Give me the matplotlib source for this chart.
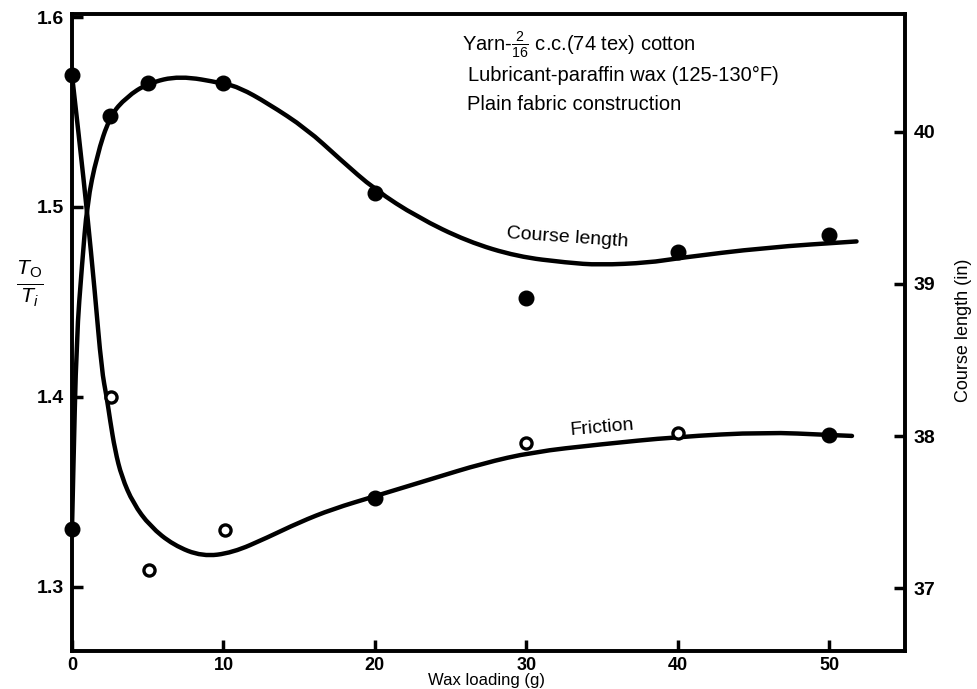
import matplotlib
matplotlib.use("Agg")
import matplotlib.pyplot as plt
from matplotlib.path import Path
from matplotlib.patches import PathPatch

# =====================================
# Data
# =====================================

wax_friction = [0, 2.6, 5.1, 10.1, 20, 30, 40, 50]
friction_ratio = [1.5695, 1.400, 1.309, 1.330, 1.347, 1.376, 1.381, 1.380]
friction_filled = [True, False, False, False, True, False, False, True]

wax_course = [0, 2.5, 5, 10, 20, 30, 40, 50]
course_length = [37.39, 40.105, 40.32, 40.32, 39.60, 38.91, 39.21, 39.32]

# hand drawn fitted curves
friction_curve_x = [0, 0.5, 1.0, 1.5, 1.96, 2.29, 2.51, 2.84, 3.28, 4.04,
                    5.15, 6.7, 8.6, 10.6, 12.9, 15.0, 17.2, 20.1, 23.8,
                    27.1, 30.4, 34.8, 39.9, 45.8, 50.0, 51.5]
friction_curve_y = [1.5695, 1.534, 1.497, 1.456, 1.414, 1.400, 1.388, 1.372,
                    1.358, 1.344, 1.332, 1.322, 1.316, 1.318, 1.326, 1.334,
                    1.341, 1.348, 1.357, 1.365, 1.371, 1.375, 1.379, 1.3815,
                    1.380, 1.3795]

course_curve_x = [0, 0.07, 0.3, 0.66, 1.0, 1.63, 2.5, 3.6, 5.0, 7.1, 10.0,
                  11.1, 12.9, 15.5, 17.7, 20.0, 22.8, 26.1, 29.4, 32.7, 34.8,
                  38.1, 40.0, 45.8, 51.8]
course_curve_y = [37.39, 37.71, 38.65, 39.125, 39.53, 39.84, 40.105, 40.23,
                  40.32, 40.37, 40.32, 40.29, 40.19, 40.02, 39.82, 39.62,
                  39.44, 39.28, 39.18, 39.14, 39.125, 39.14, 39.17, 39.24,
                  39.28]

x_ticks = [0, 10, 20, 30, 40, 50]
left_ticks = [1.3, 1.4, 1.5, 1.6]
right_ticks = [37, 38, 39, 40]


# =====================================
# Smooth line through traced points
# (quadratic bezier, traced points as control points)
# =====================================

def smooth_line(a, xs, ys):
    verts = [(xs[0], ys[0])]
    codes = [Path.MOVETO]
    for i in range(1, len(xs) - 1):
        mid = ((xs[i] + xs[i + 1]) / 2, (ys[i] + ys[i + 1]) / 2)
        verts += [(xs[i], ys[i]), mid]
        codes += [Path.CURVE3, Path.CURVE3]
    verts.append((xs[-1], ys[-1]))
    codes.append(Path.LINETO)
    patch = PathPatch(Path(verts, codes), fill=False, edgecolor="black",
                      lw=3.2, capstyle="round", joinstyle="round", zorder=3)
    a.add_patch(patch)


# =====================================
# Style
# =====================================

plt.rcParams["font.family"] = ["Liberation Sans", "DejaVu Sans"]
plt.rcParams["mathtext.fontset"] = "custom"
plt.rcParams["mathtext.rm"] = "Liberation Sans"
plt.rcParams["mathtext.it"] = "Liberation Sans:italic"
plt.rcParams["mathtext.bf"] = "Liberation Sans:bold"

fig = plt.figure(figsize=(9.77, 6.89), dpi=100)
ax = fig.add_axes([0.0737, 0.0552, 0.8526, 0.9245])
ax2 = ax.twinx()

# =====================================
# Friction (left axis)
# =====================================

smooth_line(ax, friction_curve_x, friction_curve_y)

for x, y, filled in zip(wax_friction, friction_ratio, friction_filled):
    if filled:
        ax.plot(x, y, "o", ms=10.5, color="black", zorder=5, clip_on=False)
    else:
        ax.plot(x, y, "o", ms=8, mfc="white", mec="black", mew=2.4,
                zorder=5, clip_on=False)

# =====================================
# Course length (right axis)
# =====================================

smooth_line(ax2, course_curve_x, course_curve_y)
ax2.plot(wax_course, course_length, "o", ms=10.5, color="black",
         zorder=5, clip_on=False)

# =====================================
# Axes
# =====================================

ax.set_xlim(0, 55)
ax.set_ylim(1.2663, 1.6016)
ax2.set_ylim(36.586, 40.776)

ax.set_xticks(x_ticks)
ax.set_xticklabels([str(t) for t in x_ticks], fontweight="bold", fontsize=13)
ax.set_yticks(left_ticks)
ax.set_yticklabels([f"{t:.1f}" for t in left_ticks], fontweight="bold",
                   fontsize=14)
ax2.set_yticks(right_ticks)
ax2.set_yticklabels([str(t) for t in right_ticks], fontweight="bold",
                    fontsize=14)

ax.tick_params(axis="both", direction="in", length=8, width=2.5, pad=6)
ax.tick_params(axis="x", pad=4)
ax2.tick_params(axis="y", direction="in", length=8, width=2.5, pad=6)

for a in (ax, ax2):
    for s in a.spines.values():
        s.set_linewidth(2.6)

fig.text(487 / 977, 1 - 681 / 689, "Wax loading (g)", fontsize=12,
         ha="center", va="center")
fig.text(963 / 977, 1 - 330 / 689, "Course length (in)", fontsize=13,
         ha="center", va="center", rotation=90)

fig.text(30 / 977, 1 - 283 / 689, r"$\frac{T_{\mathrm{O}}}{T_i}$",
         fontsize=22, ha="center", va="center")

# =====================================
# Annotations
# =====================================

fig.text(462 / 977, 1 - 45 / 689,
         r"Yarn-$\frac{2}{16}$ c.c.(74 tex) cotton",
         fontsize=14.5, ha="left", va="center")
fig.text(468 / 977, 1 - 75 / 689,
         "Lubricant-paraffin wax (125-130°F)",
         fontsize=14.5, ha="left", va="center")
fig.text(467 / 977, 1 - 105 / 689,
         "Plain fabric construction",
         fontsize=14.5, ha="left", va="center")

fig.text(567 / 977, 1 - 238 / 689, "Course length", fontsize=14,
         ha="center", va="center", rotation=-4)
fig.text(602 / 977, 1 - 428 / 689, "Friction", fontsize=14,
         ha="center", va="center", rotation=5)

fig.savefig("out.png", dpi=100)
